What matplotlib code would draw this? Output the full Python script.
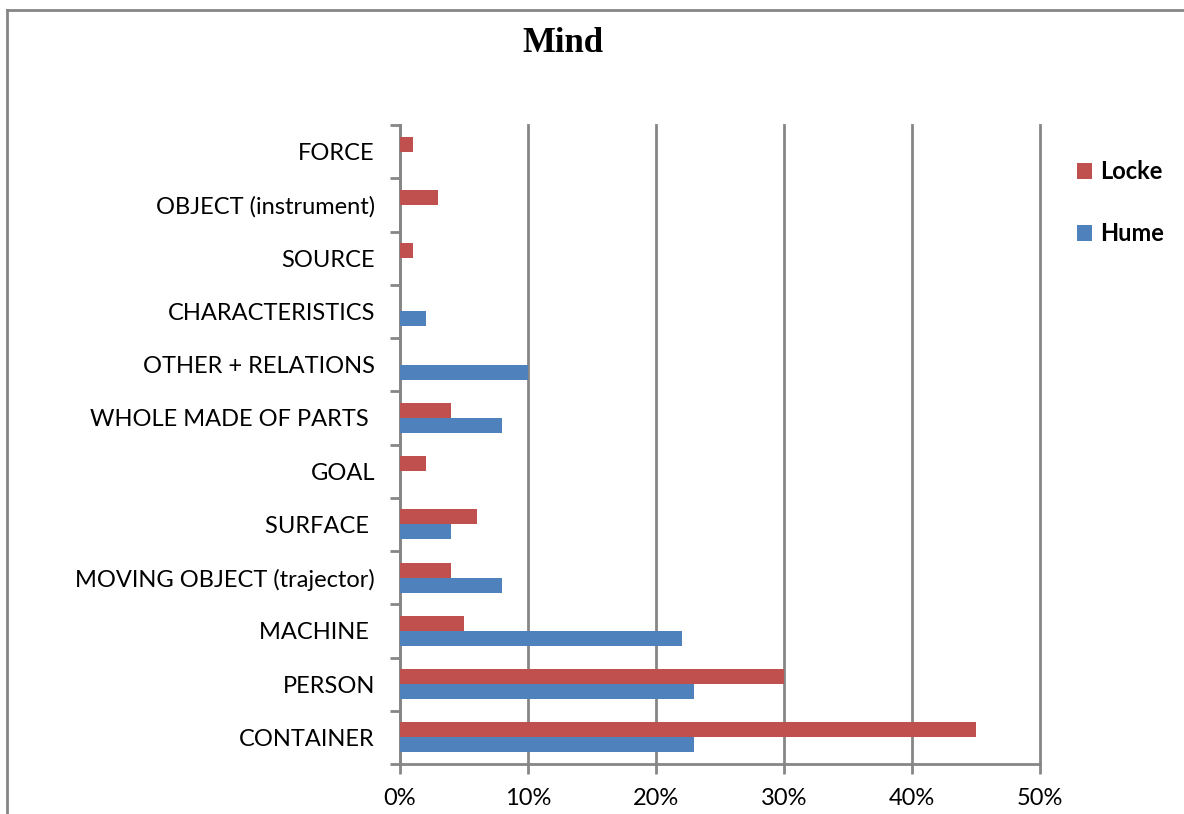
import matplotlib.pyplot as plt
import numpy as np
from matplotlib.lines import Line2D

categories = ['CONTAINER', 'PERSON', 'MACHINE ', 'MOVING OBJECT (trajector)', 'SURFACE ',
              'GOAL', 'WHOLE MADE OF PARTS ', 'OTHER + RELATIONS', 'CHARACTERISTICS',
              'SOURCE', 'OBJECT (instrument)', 'FORCE']
locke = [45, 30, 5, 4, 6, 2, 4, 0, 0, 1, 3, 1]
hume = [23, 23, 22, 8, 4, 0, 8, 10, 2, 0, 0, 0]
xticks = [0, 10, 20, 30, 40, 50]

red = '#C0504D'
blue = '#4F81BD'
grey = '#868686'
sans = ['Lato', 'DejaVu Sans']

fig = plt.figure(figsize=(11.84, 8.14), dpi=100)
ax = fig.add_axes([400/1184, 50/814, 640/1184, 639/814])

y = np.arange(len(categories))
h = 0.28
ax.barh(y + h/2, locke, height=h, color=red, label='Locke', zorder=3)
ax.barh(y - h/2, hume, height=h, color=blue, label='Hume', zorder=3)

ax.set_xlim(0, 50)
ax.set_ylim(-0.5, len(categories) - 0.5)
ax.set_xticks(xticks)
ax.set_xticklabels([f'{v}%' for v in xticks], fontsize=17, family=sans)
ax.set_yticks(y)
ax.set_yticklabels(categories, fontsize=17, family=sans)
ax.set_yticks(np.arange(len(categories) + 1) - 0.5, minor=True)
ax.tick_params(axis='y', which='major', length=0, pad=18)
ax.tick_params(axis='y', which='minor', length=7, width=2, color=grey)
ax.tick_params(axis='x', length=7, width=2, color=grey, pad=10)

ax.grid(axis='x', color=grey, linewidth=2, zorder=0)
for line in ax.get_xgridlines():
    line.set_clip_on(False)
for s in ['top', 'right']:
    ax.spines[s].set_visible(False)
for s in ['left', 'bottom']:
    ax.spines[s].set_color(grey)
    ax.spines[s].set_linewidth(2)

fig.text(563/1184, 1 - 44/814, 'Mind', ha='center', va='center', fontsize=25,
         fontweight='bold', family='Liberation Serif')

handles, labels = ax.get_legend_handles_labels()
fig.legend(handles, labels, loc='upper left', bbox_to_anchor=(1056/1184, 1 - 139/814),
           frameon=False, prop={'family': sans, 'weight': 'bold', 'size': 17},
           handlelength=0.63, handleheight=0.63, handletextpad=0.35, labelspacing=1.65)

# outer chart border
fig.add_artist(Line2D([7/1184, 7/1184], [0, 1 - 10/814], transform=fig.transFigure,
                      color=grey, linewidth=2))
fig.add_artist(Line2D([7/1184, 1], [1 - 10/814, 1 - 10/814], transform=fig.transFigure,
                      color=grey, linewidth=2))

fig.savefig('out.png', dpi=100)
